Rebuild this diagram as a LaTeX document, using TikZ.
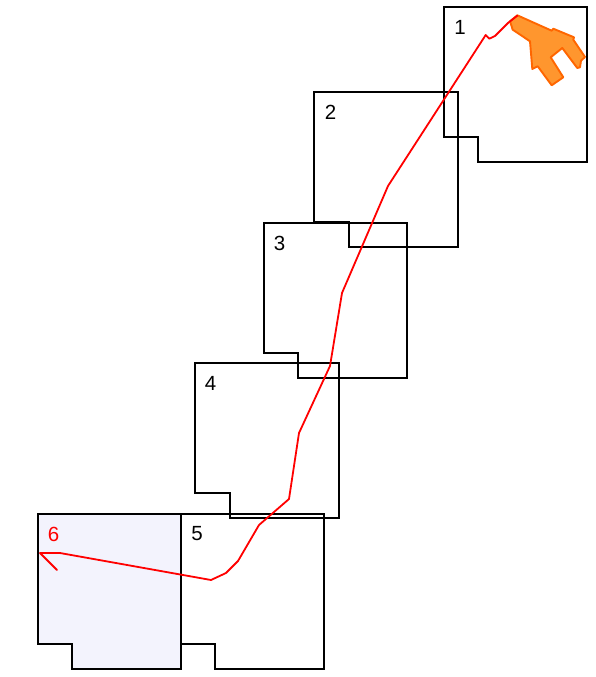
\documentclass[tikz,border=0pt]{standalone}
\usepackage{fontspec}
\setmainfont{Liberation Sans}
\definecolor{roomfill}{HTML}{F3F3FD}
\definecolor{planefill}{HTML}{FF962E}
\definecolor{planeline}{HTML}{FF6600}
\tikzset{
  frame/.style={draw=black,line width=1.6pt,line join=miter},
  route/.style={draw=red,line width=1.8pt,line join=round,line cap=round},
  plane/.style={draw=planeline,fill=planefill,line width=1.9pt,line join=round},
  num/.style={anchor=center,font=\fontsize{20.5}{22}\selectfont,inner sep=0pt}
}
\begin{document}
\begin{tikzpicture}[x=1pt,y=-1pt]
\useasboundingbox (0,0) rectangle (595,677);
\fill[white] (0,0) rectangle (595,677);
% frames
\draw[frame,fill=roomfill] (38,514) -- (181,514) -- (181,669) -- (72,669) -- (72,644) -- (38,644) -- cycle;
\draw[frame] (181,514) -- (324,514) -- (324,669) -- (215,669) -- (215,644) -- (181,644) -- cycle;
\draw[frame] (195,363) -- (339,363) -- (339,518) -- (230,518) -- (230,493) -- (195,493) -- cycle;
\draw[frame] (264,223) -- (407,223) -- (407,378) -- (298,378) -- (298,353) -- (264,353) -- cycle;
\draw[frame] (314,92) -- (458,92) -- (458,247) -- (349,247) -- (349,222) -- (314,222) -- cycle;
\draw[frame] (444,7) -- (587,7) -- (587,162) -- (478,162) -- (478,137) -- (444,137) -- cycle;
% aircraft
\draw[plane] (517.3,15.3) -- (551.7,30.7) -- (553.3,28.7) -- (574,37.3) -- (573.3,39.7) -- (585,57) -- (581,60.7) -- (580,67.3) -- (577.3,68) -- (562.3,48) -- (550.7,57.3) -- (563.3,77.3) -- (551.7,85.3) -- (537.7,66.3) -- (532.3,69) -- (530,41.3) -- (512.7,29.7) -- (510,21.3) -- cycle;
% route
\draw[route] (57,570) -- (40,553) -- (60,553) -- (211,580) -- (226,573) -- (238,561) -- (259,525) -- (289,499) -- (299,433) -- (330,366) -- (342,293) -- (388,186) -- (485.7,35) -- (489.3,38.7) -- (495,36) -- (508.3,22.7) -- (517.3,15.7);
% labels
\node[num] (n1) at (460,27) {1};
\node[num] (n2) at (330.5,112) {2};
\node[num] (n3) at (279.5,243) {3};
\node[num] (n4) at (210.5,383) {4};
\node[num] (n5) at (197,534) {5};
\node[num,text=red] (n6) at (53.5,534) {6};
\end{tikzpicture}
\end{document}
